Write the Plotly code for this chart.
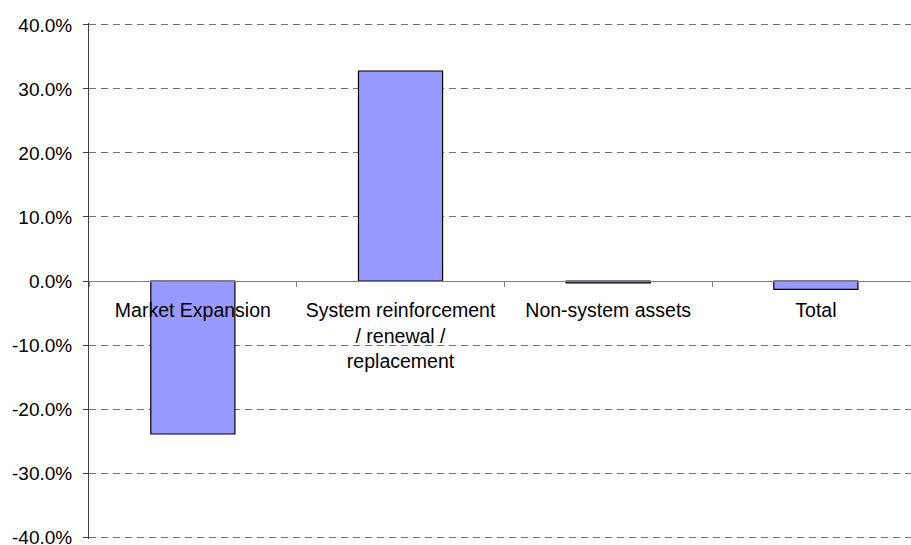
import plotly.graph_objects as go

categories = ["Market Expansion", "System reinforcement<br>/ renewal /<br>replacement",
              "Non-system assets", "Total"]
values = [-23.9, 32.8, -0.3, -1.3]
ytick_vals = [-40, -30, -20, -10, 0, 10, 20, 30, 40]
ytick_text = ["-40.0%", "-30.0%", "-20.0%", "-10.0%", "0.0%", "10.0%", "20.0%", "30.0%", "40.0%"]

FONT = "Liberation Sans, Arial, sans-serif"

fig = go.Figure(go.Bar(
    x=categories, y=values, width=0.405,
    marker=dict(color="#9999FF", line=dict(color="#000000", width=1.2)),
))

fig.update_layout(
    width=911, height=545,
    margin=dict(l=89, r=0, t=23, b=6),
    plot_bgcolor="white", paper_bgcolor="white",
    showlegend=False,
    font=dict(family=FONT, color="black", size=19),
)
fig.update_xaxes(
    type="category",
    range=[-0.5, 3.458],
    anchor="free", position=0.5,
    showline=True, linecolor="#808080", linewidth=1,
    showgrid=False,
    ticks="outside", ticklen=5, tickcolor="#808080", tickson="boundaries",
    tickfont=dict(family=FONT, size=19.5, color="black"),
    ticklabelstandoff=12,
    automargin=False,
)
fig.update_yaxes(
    range=[-40.3, 40.3],
    tickvals=ytick_vals, ticktext=ytick_text,
    showline=True, linecolor="#404040", linewidth=1,
    ticks="outside", ticklen=5, tickcolor="#404040",
    showgrid=True, gridcolor="#707070", gridwidth=1, griddash="7px,5px",
    zeroline=False,
    tickfont=dict(family=FONT, size=19, color="black"),
    ticklabelstandoff=7,
    ticklabeloverflow="allow",
    automargin=False,
)

fig.write_html("out.html")
